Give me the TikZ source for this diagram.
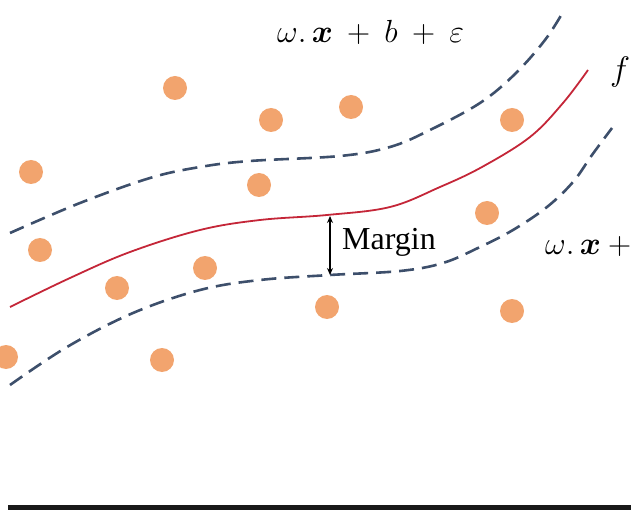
\RequirePackage{fix-cm}
\documentclass[tikz,border=0pt]{standalone}
\usepackage{amsmath}
\usepackage{fontspec}
\setmainfont{Liberation Serif}
\usetikzlibrary{arrows.meta}
\definecolor{dotc}{HTML}{F2A46E}
\definecolor{redc}{HTML}{C42638}
\definecolor{dashc}{HTML}{3D4F6B}
\tikzset{
  dotnode/.style={circle, fill=dotc, draw=none, minimum size=24pt, inner sep=0pt},
  fcurve/.style={draw=redc, line width=1.8pt},
  bandline/.style={draw=dashc, line width=2.6pt, dash pattern=on 15pt off 8pt},
  marrow/.style={{Stealth[length=7pt,width=6pt]}-{Stealth[length=7pt,width=6pt]}, line width=1.4pt, black},
  eqtext/.style={inner sep=0pt, anchor=base west, font=\fontsize{32}{38}\selectfont},
  bar/.style={fill=black!90, draw=none}
}
\begin{document}
\begin{tikzpicture}[x=1pt,y=-1pt]
\useasboundingbox (0,0) rectangle (631,510);
% data points
\node[dotnode] (d1) at (175,88) {};
\node[dotnode] (d2) at (271,120) {};
\node[dotnode] (d3) at (351,107) {};
\node[dotnode] (d4) at (512,120) {};
\node[dotnode] (d5) at (31,172) {};
\node[dotnode] (d6) at (259,185) {};
\node[dotnode] (d7) at (40,250) {};
\node[dotnode] (d8) at (487,213) {};
\node[dotnode] (d9) at (117,288) {};
\node[dotnode] (d10) at (205,268) {};
\node[dotnode] (d11) at (327,307) {};
\node[dotnode] (d12) at (512,311) {};
\node[dotnode] (d13) at (6,357) {};
\node[dotnode] (d14) at (162,360) {};
% upper band
\draw[bandline] plot[smooth, tension=0.6] coordinates {(10,233) (80,203) (150,178) (200,167) (250,161) (340,156) (390,147) (430,130) (480,103) (515,74) (545,40) (563,12)};
% regression function
\draw[fcurve] plot[smooth, tension=0.6] coordinates {(10,307) (70,278) (130,252) (200,230) (260,220) (327,215) (390,207) (440,187) (482,167) (530,137) (563,103) (588,70)};
% lower band
\draw[bandline] plot[smooth, tension=0.6] coordinates {(10,385) (67,347) (133,313) (200,290) (260,280) (330,275) (400,271) (443,263) (480,247) (513,230) (547,207) (573,182) (592,155) (612,128)};
% margin
\coordinate (mt) at (330,216);
\coordinate (mb) at (330,275);
\draw[marrow] (mt) -- (mb);
\node[inner sep=0pt, anchor=base west, font=\fontsize{32}{38}\selectfont] (mlab) at (342,250) {Margin};
% labels
\node[eqtext] (eqtop) at (277,43) {$\omega.\,\boldsymbol{x}\mskip4mu+\mskip4mu b\mskip4mu+\mskip4mu\varepsilon$};
\node[eqtext, font=\fontsize{34}{40}\selectfont] (flab) at (610,81) {$f$};
\node[eqtext] (eqbot) at (545,255) {$\omega.\,\boldsymbol{x}\mskip4mu+$};
% bottom bar
\fill[bar] (8,505) rectangle (631,510);
\end{tikzpicture}
\end{document}
